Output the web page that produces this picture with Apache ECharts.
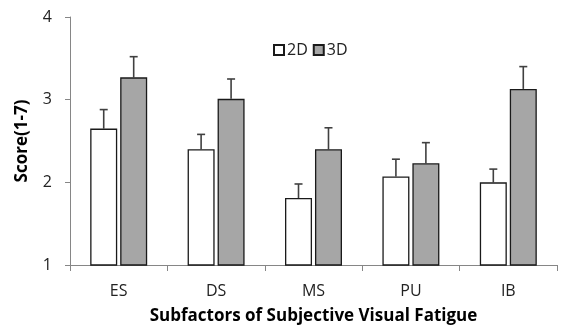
<!DOCTYPE html>
<html><head><meta charset="utf-8">
<script src="https://cdn.jsdelivr.net/npm/echarts@6/dist/echarts.min.js"></script>
<style>html,body{margin:0;padding:0;background:#fff}#c{width:563px;height:325px}</style>
</head><body><div id="c"></div>
<script>
var categories = ['ES','DS','MS','PU','IB'];
var values2D = [2.65, 2.40, 1.81, 2.07, 2.00];
var err2D = [0.23, 0.18, 0.17, 0.21, 0.16];
var values3D = [3.27, 3.01, 2.40, 2.23, 3.13];
var err3D = [0.25, 0.24, 0.26, 0.25, 0.27];
var yTicks = [1, 2, 3, 4];

var FONT = '"Open Sans", "Noto Sans", sans-serif';
var BAR_GAP = 0.11, CAT_GAP = 0.415;

function errData(vals, errs) {
  return vals.map(function (v, i) { return [i, v, errs[i]]; });
}
function errRender(seriesIdx) {
  return function (params, api) {
    var i = api.value(0), v = api.value(1), e = api.value(2);
    var band = api.size([1, 0])[0];
    var avail = band * (1 - CAT_GAP);
    var bw = avail / (2 + BAR_GAP);
    var off = (seriesIdx === 0 ? -1 : 1) * (bw + bw * BAR_GAP) / 2;
    var p0 = api.coord([i, v]);
    var p1 = api.coord([i, v + e]);
    var x = p0[0] + off;
    var style = { stroke: '#404040', lineWidth: 1.6 };
    return { type: 'group', children: [
      { type: 'line', shape: { x1: x, y1: p0[1], x2: x, y2: p1[1] }, style: style },
      { type: 'line', shape: { x1: x - 4, y1: p1[1], x2: x + 4, y2: p1[1] }, style: style }
    ]};
  };
}

var chart = echarts.init(document.getElementById('c'));
chart.setOption({
  animation: false,
  textStyle: { fontFamily: FONT },
  grid: { left: 70, right: 6, top: 17, bottom: 60, containLabel: false, outerBoundsMode: 'none' },
  legend: {
    data: ['2D', '3D'], left: 268, top: 37, itemWidth: 10, itemHeight: 10, itemGap: 5,
    icon: 'rect',
    textStyle: { fontSize: 16, color: '#222', fontFamily: FONT, padding: [0, 0, 0, -2] }
  },
  xAxis: {
    type: 'category', data: categories, boundaryGap: true,
    axisLine: { lineStyle: { color: '#868686', width: 1 } },
    axisTick: { show: true, length: 6, lineStyle: { color: '#868686' } },
    axisLabel: { fontSize: 16, color: '#222', margin: 18 },
    name: 'Subfactors of Subjective Visual Fatigue', nameLocation: 'middle', nameGap: 43,
    nameTextStyle: { fontSize: 17, fontWeight: 'bold', color: '#000' }
  },
  yAxis: {
    type: 'value', min: 1, max: 4, interval: 1,
    axisLine: { show: true, lineStyle: { color: '#868686', width: 1 } },
    axisTick: { show: true, length: 5, lineStyle: { color: '#868686' } },
    splitLine: { show: false },
    axisLabel: { fontSize: 16, color: '#222', margin: 18,
      formatter: function (v) { return yTicks.indexOf(v) >= 0 ? String(v) : ''; } },
    name: 'Score(1-7)', nameLocation: 'middle', nameGap: 39,
    nameTextStyle: { fontSize: 17, fontWeight: 'bold', color: '#000' }
  },
  series: [
    { name: '2D', type: 'bar', data: values2D, barGap: (BAR_GAP * 100) + '%', barCategoryGap: (CAT_GAP * 100) + '%',
      itemStyle: { color: '#ffffff', borderColor: '#1a1a1a', borderWidth: 1.3 } },
    { name: '3D', type: 'bar', data: values3D, barGap: (BAR_GAP * 100) + '%', barCategoryGap: (CAT_GAP * 100) + '%',
      itemStyle: { color: '#a6a6a6', borderColor: '#1a1a1a', borderWidth: 1.3 } },
    { type: 'custom', renderItem: errRender(0), data: errData(values2D, err2D), encode: { x: 0, y: 1 }, z: 1 },
    { type: 'custom', renderItem: errRender(1), data: errData(values3D, err3D), encode: { x: 0, y: 1 }, z: 1 }
  ]
});
</script></body></html>
